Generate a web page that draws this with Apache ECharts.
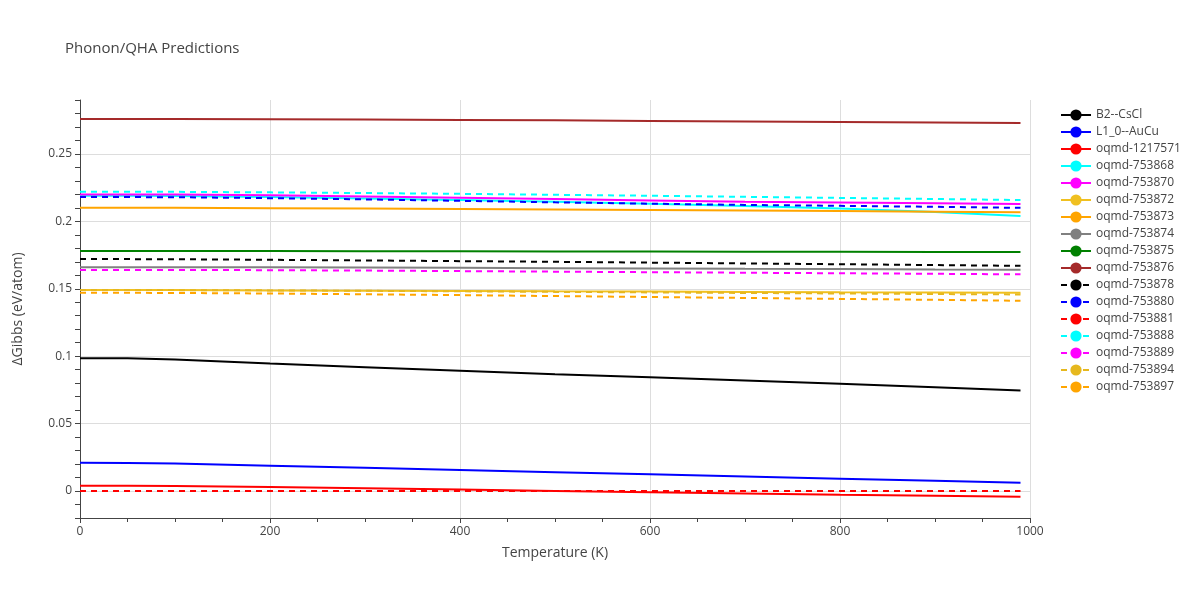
<!DOCTYPE html>
<html><head><meta charset="utf-8">
<script src="https://cdn.jsdelivr.net/npm/echarts@6/dist/echarts.min.js"></script>
<style>html,body{margin:0;padding:0;background:#fff}#c{width:1200px;height:600px}</style>
</head><body><div id="c"></div>
<script>
const temps = [0, 50, 100, 200, 300, 400, 500, 600, 700, 800, 900, 990];
const names = ["B2--CsCl","L1_0--AuCu","oqmd-1217571","oqmd-753868","oqmd-753870","oqmd-753872","oqmd-753873","oqmd-753874","oqmd-753875","oqmd-753876","oqmd-753878","oqmd-753880","oqmd-753881","oqmd-753888","oqmd-753889","oqmd-753894","oqmd-753897"];
const colors = ["#000000","#0000ff","#ff0000","#00ffff","#ff00ff","#f0c020","#ffa500","#808080","#008000","#a52a2a","#000000","#0000ff","#ff0000","#00ffff","#ff00ff","#e6b81e","#ffa500"];
const dashed = [false,false,false,false,false,false,false,false,false,false,true,true,true,true,true,true,true];
const yTickLabels = ["0","0.05","0.1","0.15","0.2","0.25"];
const values = [
 [0.0985,0.0984,0.0975,0.0945,0.0918,0.0892,0.0867,0.0843,0.0820,0.0795,0.0770,0.0745],
 [0.0210,0.0208,0.0204,0.0188,0.0172,0.0156,0.0140,0.0124,0.0108,0.0092,0.0076,0.0061],
 [0.0040,0.0039,0.0037,0.0030,0.0021,0.0011,0.0001,-0.0009,-0.0018,-0.0027,-0.0035,-0.0042],
 [0.2190,0.2190,0.2188,0.2180,0.2170,0.2158,0.2145,0.2130,0.2113,0.2095,0.2070,0.2040],
 [0.2200,0.2200,0.2199,0.2193,0.2185,0.2175,0.2165,0.2155,0.2145,0.2140,0.2135,0.2128],
 [0.1490,0.1490,0.1490,0.1488,0.1486,0.1484,0.1481,0.1479,0.1477,0.1474,0.1472,0.1470],
 [0.2100,0.2100,0.2100,0.2098,0.2095,0.2092,0.2088,0.2084,0.2080,0.2076,0.2072,0.2068],
 [0.1660,0.1660,0.1660,0.1659,0.1657,0.1655,0.1653,0.1651,0.1648,0.1646,0.1643,0.1641],
 [0.1780,0.1780,0.1780,0.1780,0.1779,0.1778,0.1777,0.1776,0.1775,0.1774,0.1773,0.1772],
 [0.2760,0.2760,0.2759,0.2757,0.2755,0.2752,0.2749,0.2745,0.2741,0.2737,0.2733,0.2729],
 [0.1720,0.1720,0.1719,0.1715,0.1710,0.1705,0.1700,0.1694,0.1688,0.1682,0.1676,0.1670],
 [0.2180,0.2180,0.2179,0.2172,0.2163,0.2152,0.2141,0.2131,0.2122,0.2115,0.2108,0.2100],
 [0.0000,0.0000,0.0000,0.0000,0.0000,0.0000,0.0000,0.0000,0.0000,0.0000,0.0000,0.0000],
 [0.2220,0.2220,0.2219,0.2215,0.2210,0.2204,0.2197,0.2190,0.2182,0.2174,0.2166,0.2158],
 [0.1640,0.1640,0.1640,0.1638,0.1635,0.1631,0.1627,0.1623,0.1619,0.1615,0.1611,0.1607],
 [0.1490,0.1490,0.1490,0.1488,0.1485,0.1481,0.1477,0.1473,0.1469,0.1465,0.1461,0.1458],
 [0.1470,0.1470,0.1469,0.1465,0.1459,0.1453,0.1446,0.1439,0.1432,0.1425,0.1418,0.1411]
];
const series = names.map((n,i)=>({
  name:n, type:'line', showSymbol:false, symbol:'none',
  data: temps.map((t,j)=>[t, values[i][j]]),
  lineStyle:{color:colors[i], width:2, type: dashed[i] ? [6,5] : 'solid'},
  itemStyle:{color:colors[i]}
}));
const chart = echarts.init(document.getElementById('c'));
chart.setOption({
  animation:false,
  title:{text:'Phonon/QHA Predictions', left:60, top:36, textStyle:{fontFamily:'Open Sans', fontSize:15, fontWeight:'normal', color:'#444'}},
  grid:{left:80, right:170, top:100, bottom:82},
  legend:{orient:'vertical', left:1055, top:104, itemGap:5, itemWidth:30, itemHeight:14,
    textStyle:{fontFamily:'Open Sans', fontSize:12, color:'#444'}, data:names},
  xAxis:{type:'value', min:0, max:1000, interval:200, name:'Temperature (K)', nameLocation:'middle', nameGap:28,
    nameTextStyle:{fontFamily:'Open Sans', fontSize:14, color:'#444'},
    axisLine:{onZero:false, lineStyle:{color:'#444'}}, axisTick:{show:true, length:5},
    minorTick:{show:true, splitNumber:4, length:4}, axisLabel:{color:'#444', fontFamily:'Open Sans', formatter:v=>String(v)},
    splitLine:{lineStyle:{color:'#ddd'}}},
  yAxis:{type:'value', min:-0.02, max:0.29, interval:0.01, name:'ΔGibbs (eV/atom)', nameLocation:'middle', nameGap:55,
    nameTextStyle:{fontFamily:'Open Sans', fontSize:14, color:'#444'},
    axisLine:{show:true, onZero:false, lineStyle:{color:'#444'}}, axisTick:{show:true, length:5},
    axisLabel:{color:'#444', fontFamily:'Open Sans',
      formatter:v=>{const k=Math.round(v*100); if(k>=0 && k%5===0){return yTickLabels[k/5]||'';} return '';}},
    splitLine:{lineStyle:{color:['rgba(0,0,0,0)','rgba(0,0,0,0)','#ddd','rgba(0,0,0,0)','rgba(0,0,0,0)']}}},
  series
});
</script></body></html>
